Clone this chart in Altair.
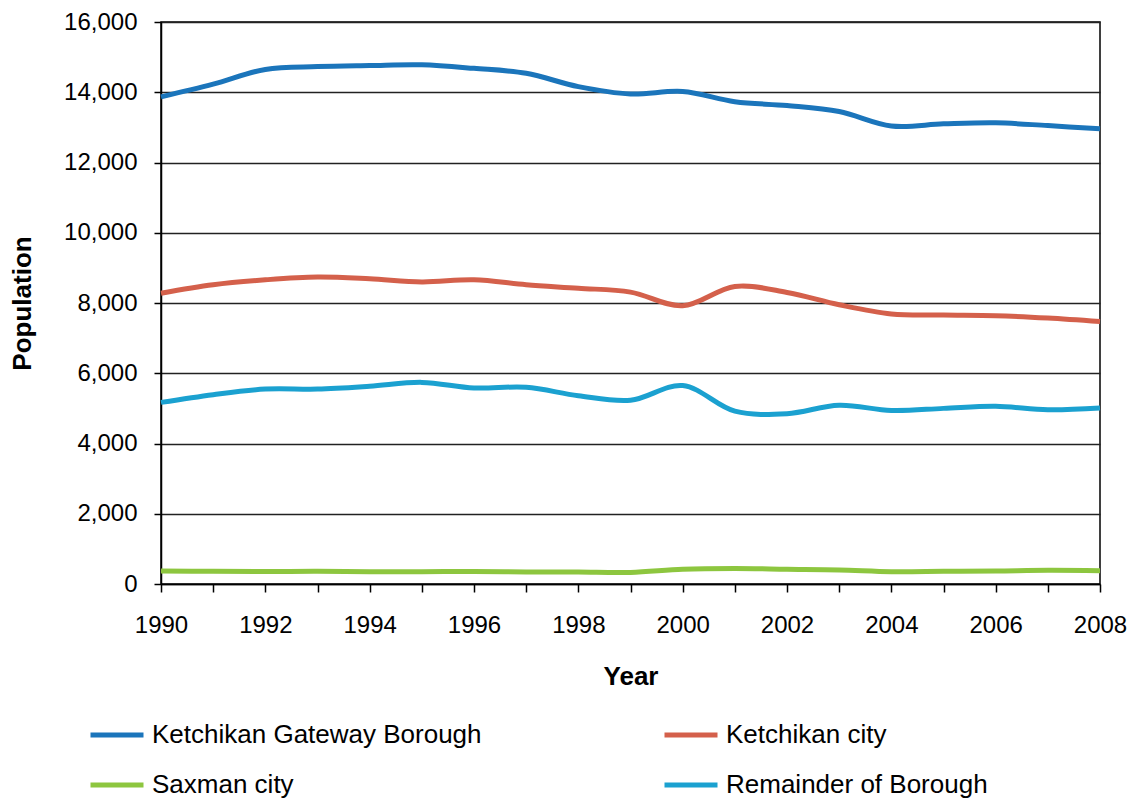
import altair as alt
import pandas as pd

# Population estimates, 1990-2008
years = list(range(1990, 2009))
borough = [13870, 14230, 14650, 14730, 14760, 14780, 14680, 14540, 14160, 13950,
           14020, 13730, 13620, 13450, 13040, 13100, 13130, 13050, 12960]
ketchikan_city = [8280, 8520, 8660, 8740, 8690, 8600, 8660, 8520, 8420, 8310,
                  7920, 8470, 8300, 7950, 7690, 7660, 7640, 7570, 7470]
saxman_city = [370, 360, 355, 360, 350, 350, 355, 345, 340, 330,
               420, 440, 420, 400, 350, 360, 370, 390, 380]
remainder = [5170, 5390, 5550, 5550, 5630, 5740, 5580, 5600, 5360, 5230,
             5650, 4920, 4850, 5090, 4940, 5000, 5060, 4960, 5010]

series_names = ["Ketchikan Gateway Borough", "Ketchikan city", "Saxman city", "Remainder of Borough"]
series_colors = ["#1b75bb", "#d4604b", "#8dc63f", "#1ba1d0"]
series_values = [borough, ketchikan_city, saxman_city, remainder]

# the two-column legend fills column by column, so list entries in that order
legend_order = ["Ketchikan Gateway Borough", "Saxman city", "Ketchikan city", "Remainder of Borough"]
legend_colors = [series_colors[series_names.index(n)] for n in legend_order]

rows = []
for name, vals in zip(series_names, series_values):
    for yr, v in zip(years, vals):
        rows.append({"Year": yr, "Population": v, "Series": name})
df = pd.DataFrame(rows)

FONT = "Liberation Sans"

chart = alt.Chart(df).mark_line(strokeWidth=5, interpolate="catmull-rom").encode(
    x=alt.X(
        "Year:Q",
        title="Year",
        scale=alt.Scale(domain=[1990, 2008], nice=False, zero=False),
        axis=alt.Axis(
            values=years,
            format="d",
            labelExpr="datum.value % 2 == 0 ? datum.label : ''",
            grid=False,
            tickSize=8,
            tickWidth=1.5,
            tickColor="black",
            domainColor="black",
            domainWidth=1.5,
            labelPadding=21,
            labelFontSize=24,
            labelColor="black",
            labelFlush=False,
            titleFontSize=26,
            titleFontWeight="bold",
            titleColor="black",
            titleY=92,
            titleBaseline="middle",
        ),
    ),
    y=alt.Y(
        "Population:Q",
        title="Population",
        scale=alt.Scale(domain=[0, 16000], nice=False),
        axis=alt.Axis(
            values=list(range(0, 16001, 2000)),
            format=",d",
            grid=True,
            gridColor="#222222",
            gridWidth=1.5,
            tickSize=7,
            tickWidth=1.5,
            tickColor="black",
            domainColor="black",
            domainWidth=1.5,
            labelPadding=17,
            labelFontSize=24,
            labelColor="black",
            titleFontSize=26,
            titleFontWeight="bold",
            titleColor="black",
            titleX=-139,
            titleBaseline="middle",
        ),
    ),
    color=alt.Color(
        "Series:N",
        title=None,
        sort=legend_order,
        scale=alt.Scale(domain=legend_order, range=legend_colors),
        legend=alt.Legend(
            orient="none",
            legendX=-73,
            legendY=684,
            columns=2,
            columnPadding=172,
            rowPadding=8,
            padding=0,
            symbolType="stroke",
            symbolSize=2809,
            symbolStrokeWidth=5,
            labelFontSize=26,
            labelColor="black",
            labelOffset=6,
            labelLimit=500,
        ),
    ),
).properties(
    width=939,
    height=562,
    autosize=alt.AutoSizeParams(type="none"),
    padding={"left": 161, "top": 22, "right": 38, "bottom": 216},
).configure(
    font=FONT,
).configure_view(
    stroke="black",
    strokeWidth=1.5,
)

chart.save("out.html", embed_options={"renderer": "svg", "actions": False})
